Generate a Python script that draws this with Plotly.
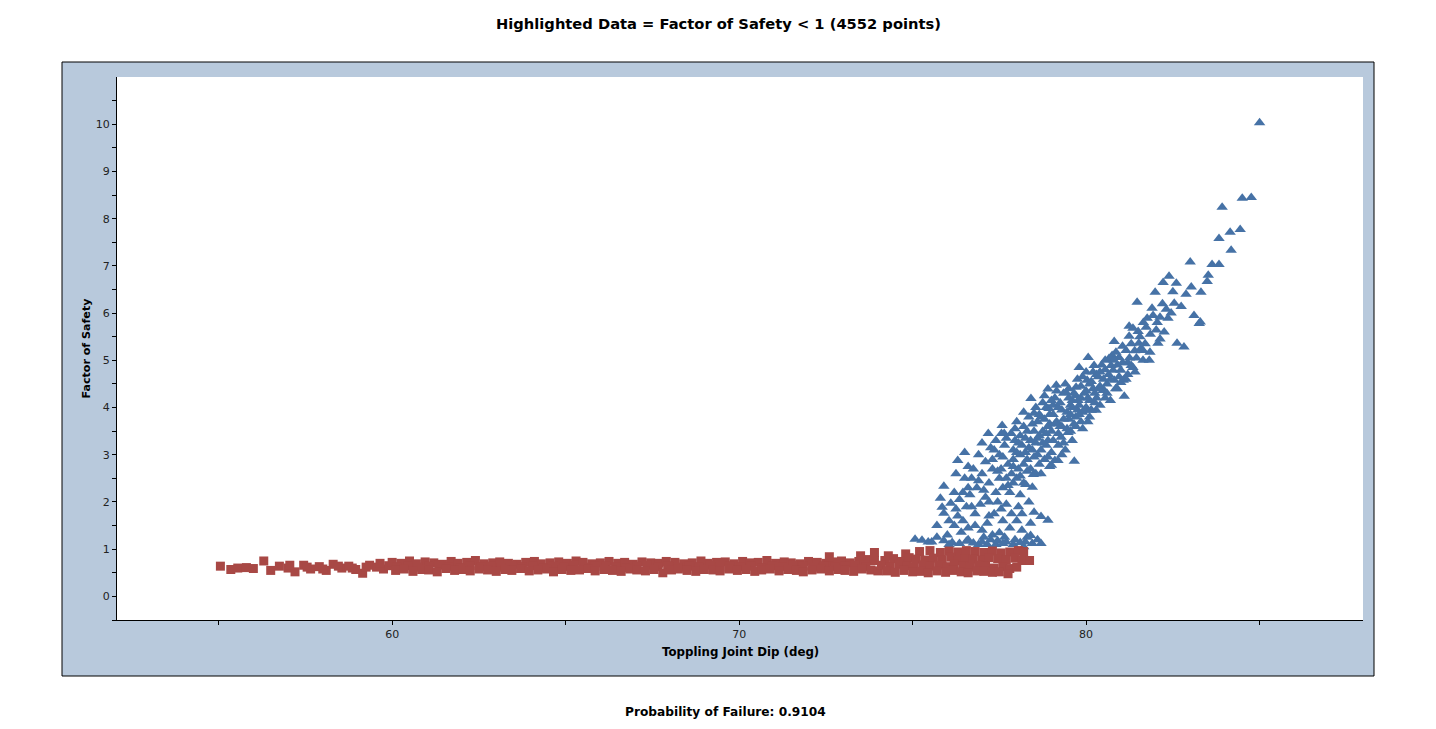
import plotly.graph_objects as go

# ---------------- data ----------------
# Red squares: Factor of Safety < 1 (highlighted data)
red_x_left = [55.05, 55.35, 55.55, 55.8, 56.0, 56.3, 56.5, 56.75, 57.0, 57.2, 57.45, 57.65,
              57.9, 58.1, 58.3, 58.55, 58.75, 58.95, 59.15, 59.35, 59.55, 59.75, 59.9,
              57.05, 57.55, 58.0, 58.45, 58.85, 59.25, 59.65]
red_y_left = [0.64, 0.57, 0.60, 0.61, 0.59, 0.75, 0.55, 0.64, 0.60, 0.52, 0.66, 0.58,
              0.63, 0.55, 0.68, 0.60, 0.64, 0.57, 0.49, 0.66, 0.62, 0.58, 0.65,
              0.66, 0.62, 0.58, 0.64, 0.60, 0.62, 0.70]

red_x_upper = [60.0, 60.25, 60.5, 60.7, 60.95, 61.2, 61.45, 61.7, 61.9, 62.15, 62.4, 62.65,
               62.9, 63.1, 63.35, 63.6, 63.85, 64.1, 64.3, 64.55, 64.8, 65.05, 65.3, 65.5,
               65.75, 66.0, 66.25, 66.5, 66.7, 66.95, 67.2, 67.45, 67.7, 67.9, 68.15, 68.4,
               68.65, 68.9, 69.1, 69.35, 69.6, 69.85, 70.1, 70.3, 70.55, 70.8, 71.05, 71.3,
               71.5, 71.75, 72.0, 72.25, 72.5, 72.7, 72.95, 73.2, 73.45, 73.7, 73.9]
red_y_upper = [0.72, 0.70, 0.75, 0.69, 0.73, 0.71, 0.68, 0.74, 0.70, 0.72, 0.76, 0.69,
               0.71, 0.73, 0.70, 0.68, 0.72, 0.74, 0.69, 0.71, 0.73, 0.70, 0.75, 0.72,
               0.69, 0.71, 0.74, 0.70, 0.72, 0.68, 0.73, 0.71, 0.70, 0.74, 0.72, 0.69,
               0.71, 0.75, 0.70, 0.72, 0.73, 0.69, 0.74, 0.71, 0.72, 0.76, 0.70, 0.73,
               0.71, 0.69, 0.74, 0.72, 0.70, 0.73, 0.75, 0.71, 0.74, 0.78, 0.76]

red_x_middle = [60.15, 60.45, 60.75, 61.05, 61.35, 61.65, 61.95, 62.25, 62.55, 62.85, 63.15,
                63.45, 63.75, 64.05, 64.35, 64.65, 64.95, 65.25, 65.55, 65.85, 66.15, 66.45,
                66.75, 67.05, 67.35, 67.65, 67.95, 68.25, 68.55, 68.85, 69.15, 69.45, 69.75,
                70.05, 70.35, 70.65, 70.95, 71.25, 71.55, 71.85, 72.15, 72.45, 72.75, 73.05,
                73.35, 73.65]
red_y_middle = [0.63, 0.65, 0.62, 0.64, 0.66, 0.63, 0.61, 0.65, 0.63, 0.64, 0.62, 0.66,
                0.63, 0.65, 0.61, 0.64, 0.63, 0.66, 0.62, 0.64, 0.65, 0.63, 0.61, 0.64,
                0.66, 0.63, 0.65, 0.62, 0.64, 0.63, 0.66, 0.62, 0.65, 0.63, 0.64, 0.61,
                0.65, 0.63, 0.66, 0.64, 0.62, 0.65, 0.63, 0.64, 0.66, 0.63]

red_x_lower = [60.1, 60.35, 60.6, 60.85, 61.05, 61.3, 61.55, 61.8, 62.05, 62.25, 62.5, 62.75,
               63.0, 63.25, 63.45, 63.7, 63.95, 64.2, 64.45, 64.65, 64.9, 65.15, 65.4, 65.65,
               65.85, 66.1, 66.35, 66.6, 66.85, 67.05, 67.3, 67.55, 67.8, 68.05, 68.25, 68.5,
               68.75, 69.0, 69.25, 69.45, 69.7, 69.95, 70.2, 70.45, 70.65, 70.9, 71.15, 71.4,
               71.65, 71.85, 72.1, 72.35, 72.6, 72.85, 73.05, 73.3, 73.55, 73.8, 74.0]
red_y_lower = [0.55, 0.58, 0.53, 0.57, 0.56, 0.52, 0.59, 0.55, 0.57, 0.54, 0.58, 0.56,
               0.53, 0.57, 0.55, 0.59, 0.54, 0.56, 0.58, 0.52, 0.57, 0.55, 0.56, 0.59,
               0.54, 0.57, 0.55, 0.53, 0.58, 0.56, 0.54, 0.57, 0.50, 0.56, 0.58, 0.55,
               0.53, 0.57, 0.56, 0.54, 0.58, 0.55, 0.57, 0.53, 0.56, 0.58, 0.54, 0.57,
               0.55, 0.52, 0.56, 0.58, 0.54, 0.57, 0.55, 0.53, 0.58, 0.56, 0.54]

red_x_right = [72.6, 73.5, 73.9,
               74.3, 74.8, 75.2, 75.5, 75.8, 76.05, 76.3, 76.55, 76.8, 77.05, 77.3, 77.55,
               77.8, 78.05, 78.2,
               74.2, 74.45, 74.7, 74.9, 75.1, 75.35, 75.6, 75.85, 76.1, 76.3, 76.5, 76.75,
               77.0, 77.2, 77.45, 77.7, 77.95, 78.15, 78.37,
               74.1, 74.35, 74.6, 74.85, 75.05, 75.3, 75.5, 75.75, 76.0, 76.2, 76.45, 76.65,
               76.9, 77.1, 77.35, 77.6, 77.8, 78.0,
               74.25, 74.5, 74.75, 75.0, 75.25, 75.45, 75.7, 75.95, 76.15, 76.4, 76.6, 76.85,
               77.05, 77.3, 77.5, 77.75]
red_y_right = [0.84, 0.86, 0.93,
               0.86, 0.90, 0.95, 0.97, 0.93, 0.96, 0.94, 0.97, 0.95, 0.93, 0.96, 0.92,
               0.94, 0.97, 0.95,
               0.76, 0.80, 0.74, 0.82, 0.79, 0.77, 0.81, 0.78, 0.83, 0.76, 0.80, 0.79,
               0.77, 0.82, 0.80, 0.78, 0.81, 0.76, 0.76,
               0.66, 0.63, 0.68, 0.65, 0.62, 0.67, 0.64, 0.66, 0.63, 0.68, 0.65, 0.62,
               0.66, 0.64, 0.60, 0.63, 0.59, 0.62,
               0.54, 0.51, 0.55, 0.52, 0.53, 0.50, 0.54, 0.51, 0.55, 0.52, 0.50, 0.54,
               0.53, 0.51, 0.52, 0.48]

# Blue triangles: Factor of Safety >= 1
blue_x = [75.07, 75.27, 75.55, 75.7, 75.7, 75.9, 75.85, 76.1, 75.8, 75.9, 76.14, 76.4,
          76.3, 76.2, 76.5, 76.3, 76.5, 76.6, 76.7, 76.8, 76.6, 76.9, 76.75, 76.9,
          77.0, 77.1, 77.2, 77.3, 77.05, 77.4, 77.18, 77.4, 77.56, 77.64, 77.58, 77.3,
          77.5, 77.45, 77.6, 77.7, 77.8, 77.75, 77.9, 77.84, 78.0, 78.1, 78.0, 78.05,
          78.15, 78.2, 78.3, 78.4, 78.5, 78.7, 78.9, 78.7, 78.26, 78.45, 78.48, 78.3,
          78.4, 78.2, 78.5, 78.41,
          78.55, 78.6, 78.65, 78.7, 78.75, 78.8, 78.85, 78.9, 78.93, 78.9, 78.95, 79.0,
          79.0, 79.0, 79.05, 79.1, 79.1, 79.14, 79.19, 79.2, 79.25, 79.28, 79.3, 79.35,
          79.4, 79.42, 79.48, 79.5, 79.55, 79.6, 79.66, 79.7, 79.71, 79.75, 79.77, 79.8,
          79.85, 79.9, 79.95, 80.0, 80.03, 80.06, 80.1, 80.14, 80.2, 80.23, 80.29, 80.3,
          80.35, 80.4, 80.49, 80.52, 80.55, 80.6, 80.66, 80.7, 80.72, 80.78, 80.81, 80.81,
          80.86, 80.9, 80.95, 81.0, 81.0, 81.07, 81.1, 81.15, 81.2, 81.24, 81.24, 81.3,
          81.35, 81.35, 81.41, 81.47, 81.5, 81.52, 81.58, 81.64, 81.64, 81.73, 81.76, 81.82,
          81.84, 81.93, 81.99, 82.02, 82.07, 82.13, 82.13, 82.22, 82.31, 82.36, 82.39, 82.54,
          82.6, 82.62, 82.74, 82.82, 82.88, 83.0, 83.03, 83.11, 83.26, 83.29, 83.31, 83.49,
          83.52, 83.63, 83.83, 83.83, 83.92, 84.15, 84.18, 84.44, 84.5, 84.76, 85.0,
          77.2, 77.3, 77.35, 77.5, 77.55, 77.65, 77.7, 77.85, 77.9, 77.95, 78.0, 78.05,
          78.1, 78.15, 78.2, 78.25, 78.3, 78.35, 78.4, 78.45, 78.5, 78.55, 78.6, 78.65,
          78.7, 78.75, 78.8, 78.85, 78.9, 78.95, 79.05, 79.15, 79.2, 79.3, 79.35, 79.45,
          79.5, 79.55, 79.6, 79.65, 79.7, 79.8, 79.85, 79.9, 80.0, 80.05, 80.1, 80.15,
          80.25, 80.3, 80.4, 80.45, 80.55, 80.65, 80.75, 80.85, 80.9, 81.05, 81.15, 81.25,
          81.3, 81.45, 81.55, 81.65, 81.7, 81.85, 81.9, 82.05, 82.2, 82.25, 82.45, 82.5,
          76.0, 76.05, 76.2, 76.25, 76.35, 76.45, 76.55, 76.6, 76.65, 76.7, 76.8, 76.85,
          76.95, 77.0, 77.05, 77.15, 77.2, 77.25, 77.35, 77.4, 77.5, 77.55, 77.6, 77.65,
          77.7, 77.8, 77.85, 77.9, 77.95, 78.0, 78.1, 78.15, 78.2, 78.25, 78.35, 78.4,
          75.45, 75.9, 76.05, 76.35, 76.55, 76.75, 77.0, 77.15, 77.45, 77.6, 77.9, 78.1,
          78.45, 78.6,
          77.45, 77.6, 77.7, 77.75, 77.9, 77.95, 78.05, 78.1, 78.2, 78.25, 78.3, 78.35,
          78.45, 78.5, 78.55, 78.6, 78.65, 78.7, 78.75, 78.8, 78.85, 78.9, 78.95, 79.0,
          79.05, 79.1, 79.15, 79.2, 79.25, 79.3, 79.35, 79.4, 79.45, 79.5, 79.55, 79.6,
          79.65, 79.7, 79.75, 79.8, 79.85, 79.9, 79.95, 80.0, 80.05, 80.1, 80.15, 80.2,
          80.25, 80.35, 80.4, 80.5, 80.55, 80.6, 80.7, 80.8, 80.95, 81.05, 81.2, 81.4,
          76.9, 77.1, 77.25, 76.45, 76.6, 77.0, 76.25]
blue_y = [1.21, 1.19, 1.15, 1.25, 1.50, 1.76, 1.89, 1.97, 2.08, 2.33, 1.14, 1.36,
          1.70, 2.20, 2.50, 2.88, 3.05, 2.30, 1.90, 1.50, 1.20, 1.10, 2.70, 3.00,
          2.60, 2.10, 1.70, 1.30, 1.25, 1.10, 3.45, 3.30, 3.45, 3.45, 3.62, 2.90,
          2.50, 2.00, 1.60, 1.15, 2.20, 2.80, 3.10, 3.45, 3.70, 3.00, 2.50, 1.90,
          1.40, 1.05, 1.25, 1.29, 1.78, 1.69, 1.61, 1.12, 2.37, 2.31, 2.58, 2.90,
          3.30, 3.60, 3.88, 4.19,
          2.60, 3.00, 3.40, 3.80, 4.10, 2.90, 3.20, 3.60, 3.98, 4.39, 2.75, 3.05,
          3.50, 2.78, 3.85, 4.20, 2.88, 4.47, 2.88, 3.20, 3.60, 3.37, 3.95, 4.30,
          3.10, 4.32, 3.47, 3.75, 4.05, 3.30, 2.86, 3.60, 4.43, 3.95, 4.15, 4.85,
          3.70, 3.90, 4.30, 4.00, 4.58, 5.06, 3.80, 3.94, 4.40, 4.89, 3.94, 4.20,
          4.65, 4.05, 4.36, 4.36, 4.80, 4.50, 5.04, 4.15, 4.89, 4.79, 4.58, 5.40,
          5.17, 4.40, 5.06, 4.79, 4.53, 4.58, 4.24, 5.21, 4.95, 5.51, 5.72, 4.89,
          5.68, 4.85, 4.75, 6.23, 5.61, 5.36, 5.25, 5.21, 5.00, 5.70, 5.89, 5.00,
          5.17, 5.95, 6.44, 5.64, 5.36, 5.45, 5.91, 6.65, 6.08, 5.89, 6.78, 6.21,
          6.63, 5.36, 6.14, 5.28, 6.40, 7.08, 6.55, 5.95, 5.78, 5.81, 6.44, 6.67,
          6.80, 7.03, 7.03, 7.58, 8.24, 7.71, 7.33, 7.77, 8.43, 8.45, 10.03,
          2.40, 2.70, 3.10, 3.00, 2.70, 3.20, 2.50, 2.60, 2.90, 3.30, 3.05, 2.70,
          3.40, 3.20, 2.80, 3.05, 3.50, 3.80, 2.70, 3.10, 3.50, 3.25, 3.70, 2.80,
          3.10, 3.50, 3.75, 4.00, 3.30, 3.65, 4.05, 3.70, 4.00, 3.00, 3.75, 3.90,
          4.20, 3.50, 4.00, 4.30, 3.80, 4.05, 4.45, 3.55, 4.35, 3.70, 4.15, 4.55,
          4.10, 4.70, 4.45, 4.90, 4.20, 4.70, 5.10, 4.40, 4.90, 5.30, 4.60, 5.05,
          5.35, 5.05, 5.50, 5.80, 5.35, 5.55, 6.10, 5.80, 6.20, 5.60, 6.00, 6.45,
          1.30, 1.60, 1.50, 1.85, 2.05, 1.60, 1.90, 1.45, 2.15, 2.50, 1.75, 2.30,
          1.95, 1.40, 2.25, 1.55, 2.00, 1.20, 1.75, 2.20, 1.35, 1.85, 2.30, 1.25,
          1.95, 1.45, 1.75, 2.40, 1.20, 1.60, 2.15, 1.75, 2.40, 1.15, 2.00, 1.55,
          1.15, 1.18, 1.10, 1.12, 1.17, 1.13, 1.15, 1.10, 1.18, 1.12, 1.10, 1.14,
          1.12, 1.20,
          2.65, 2.95, 3.35, 2.35, 2.75, 3.55, 3.25, 2.55, 3.90, 3.35, 2.65, 3.15,
          3.65, 2.95, 4.00, 3.35, 3.85, 2.60, 3.25, 4.25, 3.45, 2.95, 3.85, 4.15,
          3.30, 3.65, 4.35, 3.45, 4.10, 3.60, 3.25, 4.50, 3.55, 4.40, 3.85, 4.15,
          3.65, 4.25, 4.60, 3.85, 4.20, 4.65, 3.95, 4.75, 4.20, 4.50, 3.95, 4.75,
          4.30, 4.40, 4.75, 4.60, 5.00, 4.30, 4.60, 5.00, 4.65, 4.95, 4.70, 5.20,
          2.45, 2.85, 3.15, 2.20, 2.75, 3.25, 2.60]

x_tickvals = [55, 60, 65, 70, 75, 80, 85]
x_ticktext = ["", "60", "", "70", "", "80", ""]
y_tickvals = [-0.5, 0, 0.5, 1, 1.5, 2, 2.5, 3, 3.5, 4, 4.5, 5, 5.5, 6, 6.5, 7, 7.5,
              8, 8.5, 9, 9.5, 10, 10.5]
y_ticktext = ["", "0", "", "1", "", "2", "", "3", "", "4", "", "5", "", "6", "", "7", "",
              "8", "", "9", "", "10", ""]

title_text = "Highlighted Data = Factor of Safety < 1 (4552 points)"
x_title = "Toppling Joint Dip (deg)"
y_title = "Factor of Safety"
footer_text = "Probability of Failure: 0.9104"

RED = "#A84845"
BLUE = "#4672A6"
PANEL = "#B8C9DC"
FONT = "DejaVu Sans"

red_x = red_x_left + red_x_upper + red_x_middle + red_x_lower + red_x_right
red_y = red_y_left + red_y_upper + red_y_middle + red_y_lower + red_y_right

fig = go.Figure()
fig.add_trace(go.Scatter(x=blue_x, y=blue_y, mode="markers", name="FS >= 1",
                         marker=dict(symbol="triangle-up", size=10, color=BLUE,
                                     line=dict(width=0))))
fig.add_trace(go.Scatter(x=red_x, y=red_y, mode="markers", name="FS < 1",
                         marker=dict(symbol="square", size=9, color=RED,
                                     line=dict(width=0))))

W, H = 1436, 729
L, R, T, B = 117, 1363, 77, 620


def px(xp):
    return (xp - L) / (R - L)


def py(yp):
    return (B - yp) / (B - T)


shapes = [
    dict(type="rect", xref="paper", yref="paper", x0=px(62), x1=px(1374), y0=py(676), y1=py(62),
         fillcolor=PANEL, line=dict(color="black", width=1), layer="below"),
    dict(type="rect", xref="x domain", yref="y domain", x0=0, x1=1, y0=0, y1=1,
         fillcolor="white", line=dict(width=0), layer="below"),
]

annotations = [
    dict(text="<b>" + title_text + "</b>", xref="paper", yref="paper", x=px(718), y=py(24),
         xanchor="center", yanchor="middle", showarrow=False,
         font=dict(family=FONT, size=14.7, color="black")),
    dict(text="<b>" + x_title + "</b>", xref="paper", yref="paper", x=0.5, y=py(652),
         xanchor="center", yanchor="middle", showarrow=False,
         font=dict(family=FONT, size=11.8, color="black")),
    dict(text="<b>" + y_title + "</b>", xref="paper", yref="paper", x=px(86), y=0.5,
         xanchor="center", yanchor="middle", showarrow=False, textangle=-90,
         font=dict(family=FONT, size=11.1, color="black")),
    dict(text="<b>" + footer_text + "</b>", xref="paper", yref="paper", x=px(725), y=py(712),
         xanchor="center", yanchor="middle", showarrow=False,
         font=dict(family=FONT, size=12.2, color="black")),
]

fig.update_layout(
    width=W, height=H,
    margin=dict(l=L, r=W - R, t=T, b=H - B, pad=0),
    paper_bgcolor="white", plot_bgcolor="white",
    showlegend=False,
    shapes=shapes, annotations=annotations,
    font=dict(family=FONT, size=11, color="#222222"),
)
fig.update_xaxes(range=[52.07, 87.98], tickmode="array", tickvals=x_tickvals,
                 ticktext=x_ticktext, ticks="outside", ticklen=4, tickcolor="black",
                 showline=True, linecolor="black", linewidth=1, showgrid=False,
                 zeroline=False, tickfont=dict(family=FONT, size=11, color="#222222"))
fig.update_yaxes(range=[-0.5, 11.0], tickmode="array", tickvals=y_tickvals,
                 ticktext=y_ticktext, ticks="outside", ticklen=4, tickcolor="black",
                 showline=True, linecolor="black", linewidth=1, showgrid=False,
                 zeroline=False, tickfont=dict(family=FONT, size=11, color="#222222"))

fig.write_html("out.html")
